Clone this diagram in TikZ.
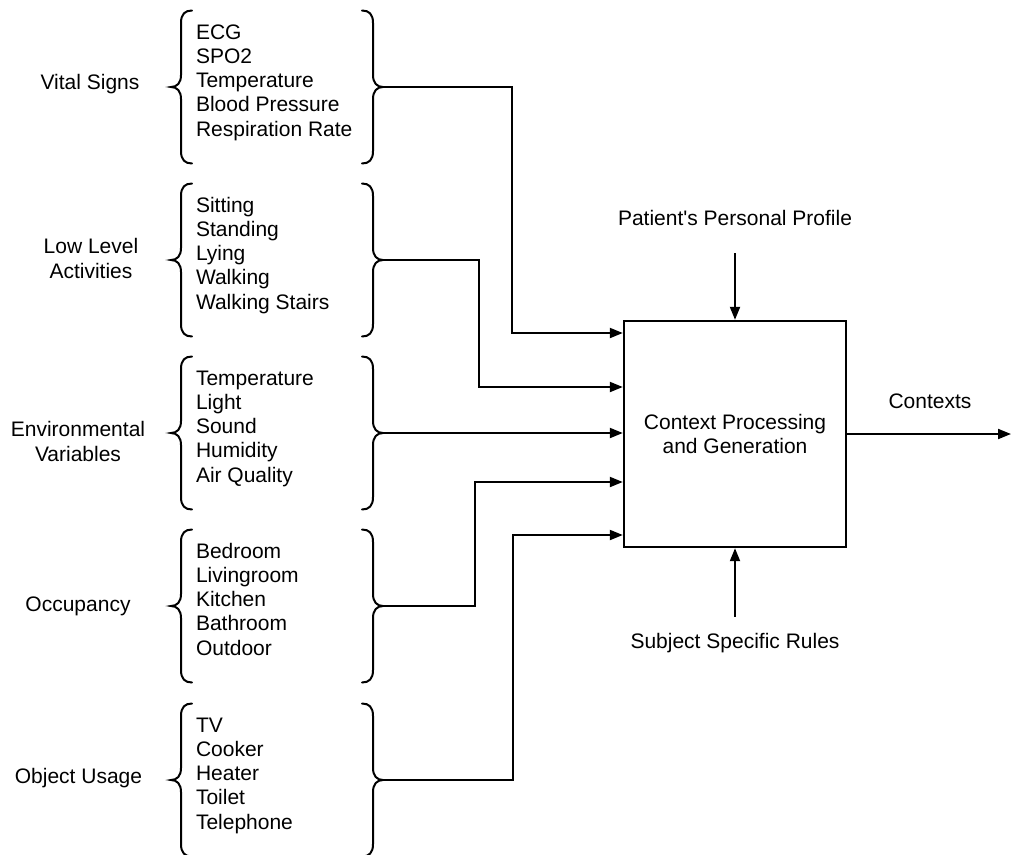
\documentclass[tikz,border=0pt]{standalone}
\usepackage{fontspec}
\setmainfont{Liberation Sans}
\usetikzlibrary{arrows.meta}
\begin{document}
\begin{tikzpicture}[x=1pt,y=-1pt,
  line width=2pt,
  txt/.style={font=\fontsize{21}{24.2}\selectfont, inner sep=0pt},
  lbl/.style={txt, align=center},
  items/.style={txt, align=left, anchor=base west},
  arr/.style={-{Triangle[length=13pt,width=10pt]}},
  brc/.style={line width=2pt, line cap=round},
  procbox/.style={draw, line width=2.4pt, minimum width=222pt, minimum height=226pt},
  % curly brace opening to the right, tip at the origin
  lbr/.pic={\draw[brc] (21,-76.5) .. controls (14,-76.5) and (10,-73) .. (10,-64)
      -- (10,-12) .. controls (10,-4) and (6,0) .. (0,0)
      .. controls (6,0) and (10,4) .. (10,12) -- (10,64)
      .. controls (10,73) and (14,76.5) .. (21,76.5);},
  % curly brace opening to the left, tip at the origin
  rbr/.pic={\draw[brc] (-21,-76.5) .. controls (-14,-76.5) and (-10,-73) .. (-10,-64)
      -- (-10,-12) .. controls (-10,-4) and (-6,0) .. (0,0)
      .. controls (-6,0) and (-10,4) .. (-10,12) -- (-10,64)
      .. controls (-10,73) and (-14,76.5) .. (-21,76.5);}
]
\useasboundingbox (0,0) rectangle (1011,854);

% central processing block
\node[procbox, lbl] (box) at (735,434) {Context Processing\\and Generation};

% group captions
\node[lbl] (g1) at (90,84) {Vital Signs};
\node[lbl] (g2) at (91,258.5) {Low Level\\Activities};
\node[lbl] (g3) at (78,441.5) {Environmental\\Variables};
\node[lbl] (g4) at (78,606.7) {Occupancy};
\node[lbl] (g5) at (78.5,777.7) {Object Usage};

% item lists (anchored at the baseline of their last line)
\node[items] (l1) at (195,136) {ECG\\SPO2\\Temperature\\Blood Pressure\\Respiration Rate};
\node[items] (l2) at (195,309) {Sitting\\Standing\\Lying\\Walking\\Walking Stairs};
\node[items] (l3) at (195,482) {Temperature\\Light\\Sound\\Humidity\\Air Quality};
\node[items] (l4) at (195,655) {Bedroom\\Livingroom\\Kitchen\\Bathroom\\Outdoor};
\node[items] (l5) at (195,829) {TV\\Cooker\\Heater\\Toilet\\Telephone};

% braces around each list
\foreach \i/\y in {1/87,2/260,3/433,4/606,5/780}{
  \pic (lb\i) at (171,\y) {lbr};
  \pic (rb\i) at (383,\y) {rbr};
  \coordinate (r\i) at (383,\y);
}

% routing columns and entry points on the block
\coordinate (c1) at (512,0);
\coordinate (c2) at (479,0);
\coordinate (c4) at (475,0);
\coordinate (c5) at (513,0);
\coordinate (in1) at ([yshift=101pt]box.west);
\coordinate (in2) at ([yshift=47pt]box.west);
\coordinate (in4) at ([yshift=-48pt]box.west);
\coordinate (in5) at ([yshift=-101pt]box.west);

\draw[arr] (r1) -| (c1 |- in1) -- (in1);
\draw[arr] (r2) -| (c2 |- in2) -- (in2);
\draw[arr] (r3) -- (r3 -| box.west);
\draw[arr] (r4) -| (c4 |- in4) -- (in4);
\draw[arr] (r5) -| (c5 |- in5) -- (in5);

% control inputs and output
\node[lbl] (prof) at (735,218) {Patient\textquotesingle s Personal Profile};
\node[lbl] (rules) at (735,643) {Subject Specific Rules};
\node[lbl] (ctx) at (930,401) {Contexts};
\coordinate (out) at (1011,434);

\draw[arr, shorten <=26.5pt] (prof) -- (box);
\draw[arr, shorten <=15.5pt] (rules) -- (box);
\draw[arr] (box.east) -- (out);
\end{tikzpicture}
\end{document}
